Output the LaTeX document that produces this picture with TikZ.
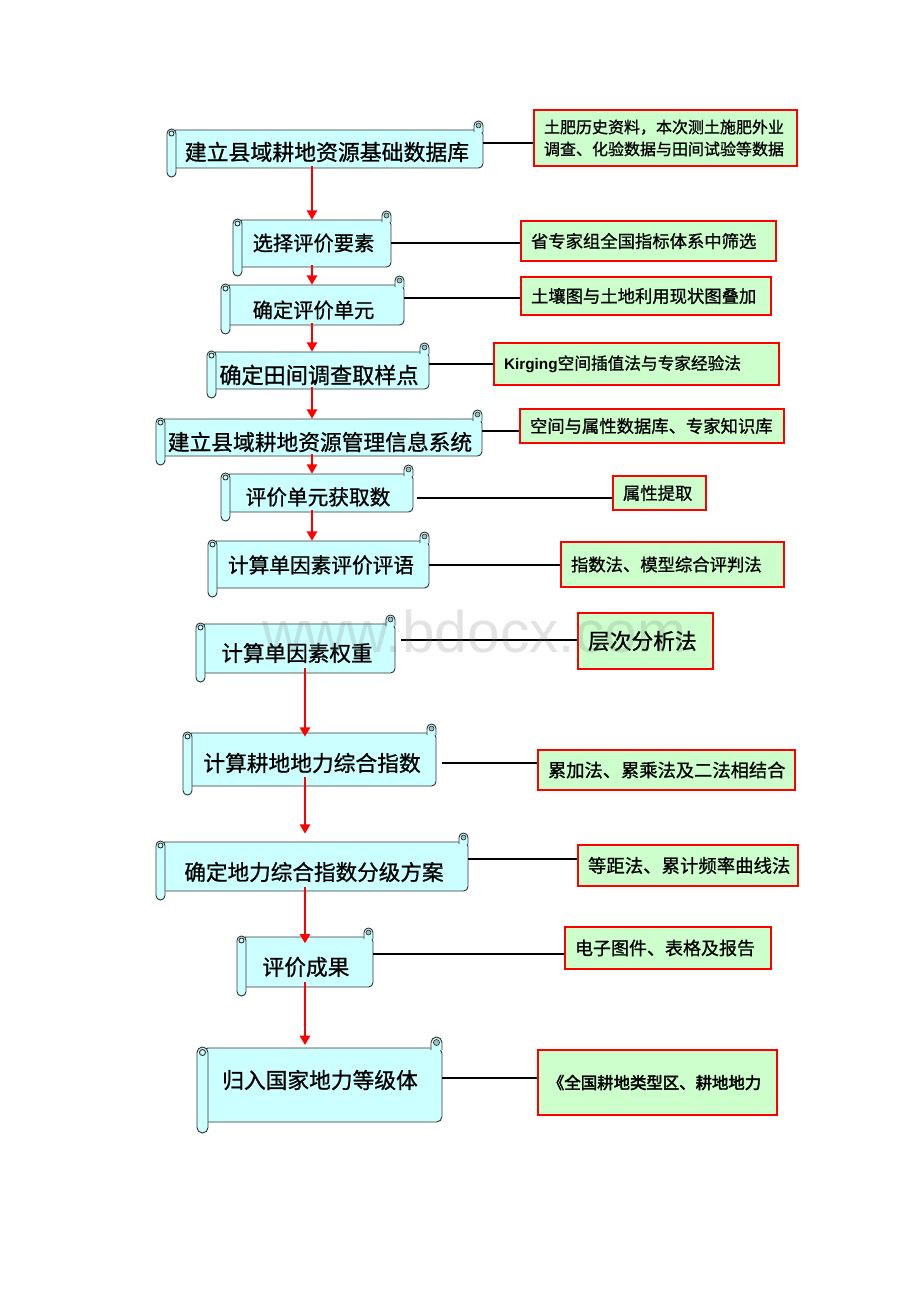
\documentclass[tikz,border=0pt]{standalone}
\usepackage{fontspec}
\setmainfont{Noto Sans CJK SC}[FakeBold=0.9]
\newfontfamily\latinsans{Liberation Sans}
\newfontfamily\cjkbold[FakeBold=2.5]{Noto Sans CJK SC}
\usetikzlibrary{arrows.meta,fit}
\definecolor{scrollfill}{HTML}{CCFFFF}
\definecolor{boxfill}{HTML}{CCFFCC}
\definecolor{rollcurl}{HTML}{9CC4C4}
\definecolor{outl}{HTML}{333333}
\tikzset{
  scb/.style={draw=outl, fill=scrollfill, line width=0.7pt},
  scc/.style={draw=outl, fill=rollcurl, line width=0.5pt},
  fitst/.style={inner sep=0pt, draw=none},
  gb/.style={draw=red, fill=boxfill, line width=2.2pt, inner xsep=7.5pt, inner ysep=0pt, align=left},
  conn/.style={draw=black, line width=2pt},
  redarr/.style={draw=red, line width=2pt, -{Triangle[length=7pt,width=7.5pt]}},
  wmark/.style={text=black!55, opacity=0.2, font=\latinsans\fontsize{44}{44}\selectfont, anchor=base}
}
% scroll: name, x1, y1, x2, y2, roll size, text pos, font size, text
\newcommand\scrl[9]{%
  \pgfmathsetmacro\scA{#2+0.5*#6}%
  \pgfmathsetmacro\scB{#3+#6}%
  \pgfmathsetmacro\scC{#5-#6}%
  \pgfmathsetmacro\scD{#4-#6}%
  \pgfmathsetmacro\scH{0.5*#6}%
  \pgfmathsetmacro\scR{0.75*0.5*#6}%
  \pgfmathsetmacro\scE{#2+#6}%
  \pgfmathsetmacro\scF{\scB+2}%
  \pgfmathsetmacro\scG{\scB-1}%
  \pgfmathsetmacro\scX{#4-\scH}%
  \pgfmathsetmacro\scY{#3+\scH}%
  \pgfmathsetmacro\scLX{#2+\scH}%
  \pgfmathsetmacro\scLY{\scB+\scH-1}%
  \pgfmathsetmacro\scCR{0.55*\scH}%
  \filldraw[scb, rounded corners=\scR pt] (\scA,\scB) -- (#4,\scB) -- (#4,\scC) -- (\scA,\scC) -- cycle;
  \filldraw[scb, rounded corners=\scR pt] (\scD,\scF) -- (\scD,#3) -- (#4,#3) -- (#4,\scF);
  \filldraw[scc] (\scX,\scY) circle[radius=\scCR];
  \filldraw[scb, rounded corners=\scR pt] (#2,\scG) rectangle (\scE,#5);
  \filldraw[scb] (\scLX,\scLY) circle[radius=\scCR];
  \node[fitst, fit={(\scA,\scB) (#4,\scC)}] (#1) {};
  \node[inner sep=0pt, font=\fontsize{#8}{#8}\selectfont] (#1t) at #7 {#9};
}
% green box: name, x1, y1, x2, y2, font, text
\newcommand\gbox[7]{%
  \pgfmathsetmacro\gbW{(#4-#2-20)*0.75}%
  \pgfmathsetmacro\gbH{(#5-#3)*0.75}%
  \pgfmathsetmacro\gbX{(#2+#4)/2}%
  \pgfmathsetmacro\gbY{(#3+#5)/2}%
  \node[gb, text width=\gbW pt, minimum height=\gbH pt, font=#6] (#1) at (\gbX,\gbY) {#7};
}
\begin{document}
\begin{tikzpicture}[x=0.75pt,y=-0.75pt]
\useasboundingbox (0,0) rectangle (920,1302);
\fill[white] (0,0) rectangle (920,1302);

% helper coordinates
\coordinate (ax) at (312,0);
\coordinate (bx) at (305,0);
\coordinate (c1) at (0,143);
\coordinate (c2) at (0,243);
\coordinate (c3) at (0,298);
\coordinate (c4) at (0,364);
\coordinate (c5) at (0,431);
\coordinate (c6) at (0,498);
\coordinate (c7) at (0,565);
\coordinate (c8) at (0,640);
\coordinate (c9) at (0,763);
\coordinate (c10) at (0,859);
\coordinate (c11) at (0,954);
\coordinate (c12) at (0,1078);

% green boxes
\gbox{b1}{534}{110}{797}{166}{\fontsize{12}{16.5}\selectfont}{土肥历史资料，本次测土施肥外业\\调查、化验数据与田间试验等数据}
\gbox{b2}{521}{221}{776}{261}{\fontsize{13}{15}\selectfont}{省专家组全国指标体系中筛选}
\gbox{b3}{521}{277}{771}{315}{\fontsize{13}{15}\selectfont}{土壤图与土地利用现状图叠加}
\gbox{b4}{494}{343}{779}{385}{\fontsize{12.5}{15}\selectfont}{{\latinsans\bfseries\fontsize{11.5}{15}\selectfont Kirging}空间插值法与专家经验法}
\gbox{b5}{520}{409}{784}{443}{\fontsize{13}{15}\selectfont}{空间与属性数据库、专家知识库}
\gbox{b6}{613}{476}{706}{510}{\fontsize{13}{15}\selectfont}{属性提取}
\gbox{b7}{561}{542}{784}{587}{\fontsize{13}{15}\selectfont}{指数法、模型综合评判法}
\gbox{b8}{578}{613}{713}{669}{\fontsize{16.3}{18}\selectfont}{层次分析法}
\gbox{b9}{538}{750}{795}{790}{\fontsize{13.7}{16}\selectfont}{累加法、累乘法及二法相结合}
\gbox{b10}{578}{845}{798}{886}{\fontsize{13.8}{16}\selectfont}{等距法、累计频率曲线法}
\gbox{b11}{565}{927}{771}{969}{\fontsize{13.5}{16}\selectfont}{电子图件、表格及报告}
\gbox{b12}{538}{1050}{777}{1115}{\cjkbold\fontsize{12.3}{15}\selectfont}{《全国耕地类型区、耕地地力}

% scrolls
\scrl{s1}{167}{121}{483}{177}{9}{(327,152)}{16.4}{建立县域耕地资源基础数据库}
\scrl{s2}{233}{211}{391}{276}{9}{(313.5,243)}{15.2}{选择评价要素}
\scrl{s3}{221}{276}{404}{334}{9}{(313.5,310)}{15.2}{确定评价单元}
\scrl{s4}{207}{343}{429}{398}{9}{(319,375)}{16.6}{确定田间调查取样点}
\scrl{s5}{156}{410}{482}{465}{9}{(320,442)}{16.3}{建立县域耕地资源管理信息系统}
\scrl{s6}{221}{465}{413}{521}{9}{(318,497)}{15.5}{评价单元获取数}
\scrl{s7}{208}{532}{429}{597}{9}{(321,565)}{15.5}{计算单因素评价评语}
\scrl{s8}{196}{615}{395}{682}{9}{(297,653)}{16.2}{计算单因素权重}
\scrl{s9}{183}{724}{436}{795}{9}{(312,763)}{16.3}{计算耕地地力综合指数}
\scrl{s10}{156}{833}{468}{900}{9}{(314,872)}{16.2}{确定地力综合指数分级方案}
\scrl{s11}{237}{928}{373}{996}{9}{(306,967)}{16.3}{评价成果}
\scrl{s12}{197}{1037}{442}{1133}{11}{(320,1080)}{16.3}{归入国家地力等级体}

% connectors
\draw[conn] (s1.east |- c1) -- (b1.west |- c1);
\draw[conn] (s2.east |- c2) -- (b2.west |- c2);
\draw[conn] (s3.east |- c3) -- (b3.west |- c3);
\draw[conn] (s4.east |- c4) -- (b4.west |- c4);
\draw[conn] (s5.east |- c5) -- (b5.west |- c5);
\draw[conn, shorten <=3pt] (s6.east |- c6) -- (b6.west |- c6);
\draw[conn] (s7.east |- c7) -- (b7.west |- c7);
\draw[conn, shorten <=4pt] (s8.east |- c8) -- (b8.west |- c8);
\draw[conn, shorten <=4pt] (s9.east |- c9) -- (b9.west |- c9);
\draw[conn] (s10.east |- c10) -- (b10.west |- c10);
\draw[conn] (s11.east |- c11) -- (b11.west |- c11);
\draw[conn] (s12.east |- c12) -- (b12.west |- c12);

% red arrows
\draw[redarr, shorten <=-1.5pt] (s1.south -| ax) -- (s2.north -| ax);
\draw[redarr, shorten <=-1.5pt] (s2.south -| ax) -- (s3.north -| ax);
\draw[redarr, shorten <=-1.5pt] (s3.south -| ax) -- (s4.north -| ax);
\draw[redarr, shorten <=-1.5pt] (s4.south -| ax) -- (s5.north -| ax);
\draw[redarr, shorten <=-1.5pt] (s5.south -| ax) -- (s6.north -| ax);
\draw[redarr, shorten <=-1.5pt] (s6.south -| ax) -- (s7.north -| ax);
\draw[redarr, shorten <=-4pt, shorten >=-3pt] (s8.south -| bx) -- (s9.north -| bx);
\draw[redarr, shorten <=-7pt, shorten >=6pt] (s9.south -| bx) -- (s10.north -| bx);
\draw[redarr, shorten <=-3pt, shorten >=-5pt] (s10.south -| bx) -- (s11.north -| bx);
\draw[redarr, shorten <=-4pt, shorten >=2pt] (s11.south -| bx) -- (s12.north -| bx);

% watermark
\node[wmark] (wm) at (474,652) {www.bdocx.com};
\end{tikzpicture}
\end{document}
